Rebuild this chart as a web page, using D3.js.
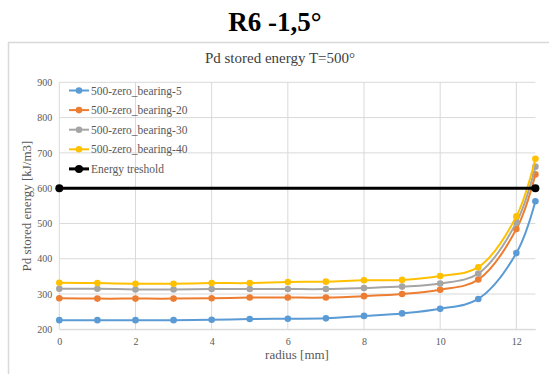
<!DOCTYPE html>
<html><head><meta charset="utf-8">
<script src="https://cdn.jsdelivr.net/npm/d3@7"></script>
<style>body{margin:0;background:#fff;}svg{display:block;}</style>
</head><body>
<svg id="c" width="549" height="374"></svg>
<script>
const radius = [0,1,2,3,4,5,6,7,8,9,10,11,12,12.5];
const seriesNames = ["500-zero_bearing-5","500-zero_bearing-20","500-zero_bearing-30","500-zero_bearing-40"];
const seriesColors = ["#5b9bd5","#ed7d31","#a5a5a5","#ffc000"];
const bearing5  = [226,226,226,226,227,229,230,231,238,245,258,286,416,563];
const bearing20 = [288,287,287,287,288,290,290,290,294,300,312,341,484,639];
const bearing30 = [315,315,313,313,314,314,314,314,317,321,330,358,503,661];
const bearing40 = [332,331,329,329,331,331,334,335,339,340,351,376,520,683];
const thresholdX = [0,12.5];
const thresholdY = [600,600];
const xTicks = [0,2,4,6,8,10,12];
const yTicks = [200,300,400,500,600,700,800,900];

const svg = d3.select("#c");
const serif = "'Liberation Serif','Times New Roman',serif";
svg.append("rect").attr("x",8.5).attr("y",42.5).attr("width",545).attr("height",340)
  .attr("fill","#fff").attr("stroke","#d9d9d9").attr("stroke-width",1.5);

svg.append("text").attr("x",275).attr("y",31).attr("text-anchor","middle")
  .attr("font-family",serif).attr("font-weight","bold").attr("font-size",27).attr("fill","#000").text("R6 -1,5°");
svg.append("text").attr("x",280).attr("y",63).attr("text-anchor","middle")
  .attr("font-family",serif).attr("font-size",15).attr("fill","#404040").text("Pd stored energy T=500°");

const x = d3.scaleLinear().domain([0,12.5]).range([59.3,535.4]);
const y = d3.scaleLinear().domain([200,900]).range([329.3,82.3]);

const g = svg.append("g");
// gridlines
g.selectAll(".hg").data(yTicks).join("line")
  .attr("x1",x(0)).attr("x2",x(12.5)).attr("y1",d=>y(d)).attr("y2",d=>y(d))
  .attr("stroke","#d9d9d9").attr("stroke-width",1);
g.selectAll(".vg").data(xTicks).join("line")
  .attr("x1",d=>x(d)).attr("x2",d=>x(d)).attr("y1",y(200)).attr("y2",y(900))
  .attr("stroke","#d9d9d9").attr("stroke-width",1);

const xAxis = svg.append("g").attr("transform",`translate(0,${y(200)})`)
  .call(d3.axisBottom(x).tickValues(xTicks).tickSize(0).tickPadding(9).tickFormat(d3.format("d")));
xAxis.select(".domain").attr("stroke","#d9d9d9");
xAxis.selectAll("text").attr("font-family",serif).attr("font-size",10).attr("fill","#595959");
const yAxis = svg.append("g").attr("transform",`translate(${x(0)},0)`)
  .call(d3.axisLeft(y).tickValues(yTicks).tickSize(0).tickPadding(7).tickFormat(d3.format("d")));
yAxis.select(".domain").remove();
yAxis.selectAll("text").attr("font-family",serif).attr("font-size",10).attr("fill","#595959");

svg.append("text").attr("x",297).attr("y",359).attr("text-anchor","middle")
  .attr("font-family",serif).attr("font-size",13).attr("fill","#595959").text("radius [mm]");
svg.append("text").attr("transform",`translate(31,206) rotate(-90)`).attr("text-anchor","middle")
  .attr("font-family",serif).attr("font-size",13).attr("fill","#595959").text("Pd stored energy [kJ/m3]");

const allSeries = [bearing5,bearing20,bearing30,bearing40];
const line = d3.line().x(d=>x(d[0])).y(d=>y(d[1])).curve(d3.curveCatmullRom.alpha(0.5));
allSeries.forEach((vals,i)=>{
  const pts = radius.map((r,j)=>[r,vals[j]]);
  g.append("path").attr("d",line(pts)).attr("fill","none").attr("stroke",seriesColors[i]).attr("stroke-width",2);
  g.selectAll(null).data(pts).join("circle").attr("cx",d=>x(d[0])).attr("cy",d=>y(d[1])).attr("r",3.3).attr("fill",seriesColors[i]);
});
const tpts = thresholdX.map((v,i)=>[v,thresholdY[i]]);
g.append("path").attr("d",d3.line().x(d=>x(d[0])).y(d=>y(d[1]))(tpts)).attr("stroke","#000").attr("stroke-width",3).attr("fill","none");
g.selectAll(null).data(tpts).join("circle").attr("cx",d=>x(d[0])).attr("cy",d=>y(d[1])).attr("r",4).attr("fill","#000");

// legend
const legNames = seriesNames.concat(["Energy treshold"]);
const legColors = seriesColors.concat(["#000"]);
const leg = svg.append("g");
legNames.forEach((n,i)=>{
  const ly = 90.5 + i*19.6;
  const isT = i===4;
  leg.append("line").attr("x1",69).attr("x2",89).attr("y1",ly).attr("y2",ly).attr("stroke",legColors[i]).attr("stroke-width",isT?3:2);
  leg.append("circle").attr("cx",79).attr("cy",ly).attr("r",isT?4:3.3).attr("fill",legColors[i]);
  leg.append("text").attr("x",91).attr("y",ly+4).attr("font-family",serif).attr("font-size",11.5).attr("fill","#595959").text(n);
});
</script>
</body></html>
